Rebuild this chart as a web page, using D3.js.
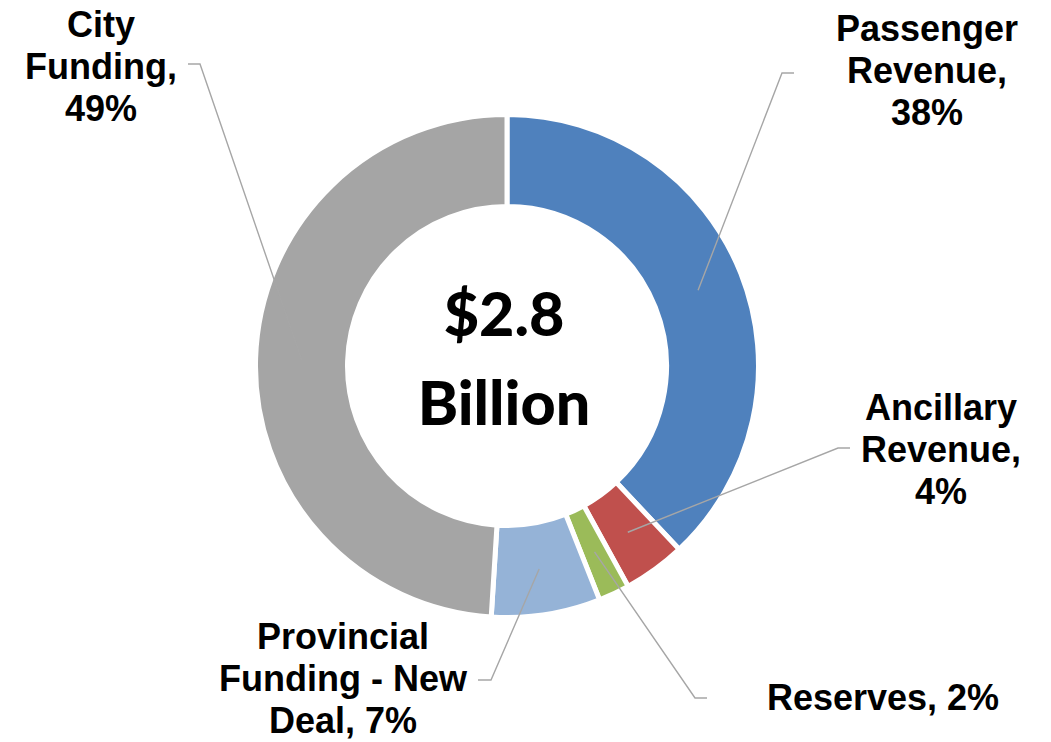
<!DOCTYPE html>
<html>
<head>
<meta charset="utf-8">
<script src="https://cdn.jsdelivr.net/npm/d3@7"></script>
<style>
  html, body { margin: 0; padding: 0; background: #ffffff; }
  svg { display: block; }
</style>
</head>
<body>
<svg id="chart" width="1051" height="742"></svg>
<script>
// Budget sources, share of total (%)
const categories = ["Passenger Revenue", "Ancillary Revenue", "Reserves", "Provincial Funding - New Deal", "City Funding"];
const shares = [38, 4, 2, 7, 49];
const colors = ["#4f81bd", "#c0504d", "#9bbb59", "#95b3d7", "#a5a5a5"];
// Label text lines, one array per slice
const labelLines = [
  ["Passenger", "Revenue,", "38%"],
  ["Ancillary", "Revenue,", "4%"],
  ["Reserves, 2%"],
  ["Provincial", "Funding - New", "Deal, 7%"],
  ["City", "Funding,", "49%"]
];
const centerLines = ["$2.8", "Billion"];

// Label placement: text anchor (x, first baseline), leader elbow and leader end
const labelLayout = [
  { x: 927, y: 41,  elbow: [782, 73],  end: [794, 73] },
  { x: 941, y: 420, elbow: [838, 448], end: [850, 448] },
  { x: 883, y: 710, elbow: [695, 698], end: [707, 698] },
  { x: 343, y: 649, elbow: [491, 680], end: [478, 680] },
  { x: 101, y: 37,  elbow: [200, 64],  end: [188, 64] }
];

const svg = d3.select("#chart");
const cx = 507, cy = 366;
const outerR = 251.5, innerR = 159.5, gapW = 5;
const lineH = 42;

const g = svg.append("g").attr("transform", `translate(${cx},${cy})`);

const data = categories.map((c, i) => ({ name: c, value: shares[i], i }));
const pie = d3.pie().value(d => d.value).sort(null);
const arcs = pie(data);
const arc = d3.arc().innerRadius(innerR).outerRadius(outerR);
const midArc = d3.arc().innerRadius((innerR + outerR) / 2).outerRadius((innerR + outerR) / 2);

g.selectAll("path.slice")
  .data(arcs)
  .join("path")
  .attr("class", "slice")
  .attr("d", arc)
  .attr("fill", d => colors[d.data.i])
  .attr("stroke", "#ffffff")
  .attr("stroke-width", gapW)
  .attr("stroke-linejoin", "miter");

// Leader lines from each slice centre to its label
svg.selectAll("polyline.leader")
  .data(arcs)
  .join("polyline")
  .attr("class", "leader")
  .attr("points", d => {
    const [mx, my] = midArc.centroid(d);
    const L = labelLayout[d.data.i];
    return [[cx + mx, cy + my], L.elbow, L.end].map(p => p.join(",")).join(" ");
  })
  .attr("fill", "none")
  .attr("stroke", "#a6a6a6")
  .attr("stroke-width", 1.4);

// Category labels
arcs.forEach(d => {
  const L = labelLayout[d.data.i];
  const t = svg.append("text")
    .attr("text-anchor", "middle")
    .attr("font-family", "'Liberation Sans', Arial, sans-serif")
    .attr("font-weight", "bold")
    .attr("font-size", 36)
    .attr("fill", "#000000");
  labelLines[d.data.i].forEach((line, k) => {
    t.append("tspan").attr("x", L.x).attr("y", L.y + k * lineH).text(line);
  });
});

// Total in the middle of the ring
const ct = svg.append("text")
  .attr("text-anchor", "middle")
  .attr("font-family", "Lato, 'Open Sans', sans-serif")
  .attr("font-weight", 900)
  .attr("font-size", 61)
  .attr("fill", "#000000");
ct.append("tspan").attr("x", 504).attr("y", 336).text(centerLines[0]);
ct.append("tspan").attr("x", 504).attr("y", 425).text(centerLines[1]);
</script>
</body>
</html>
